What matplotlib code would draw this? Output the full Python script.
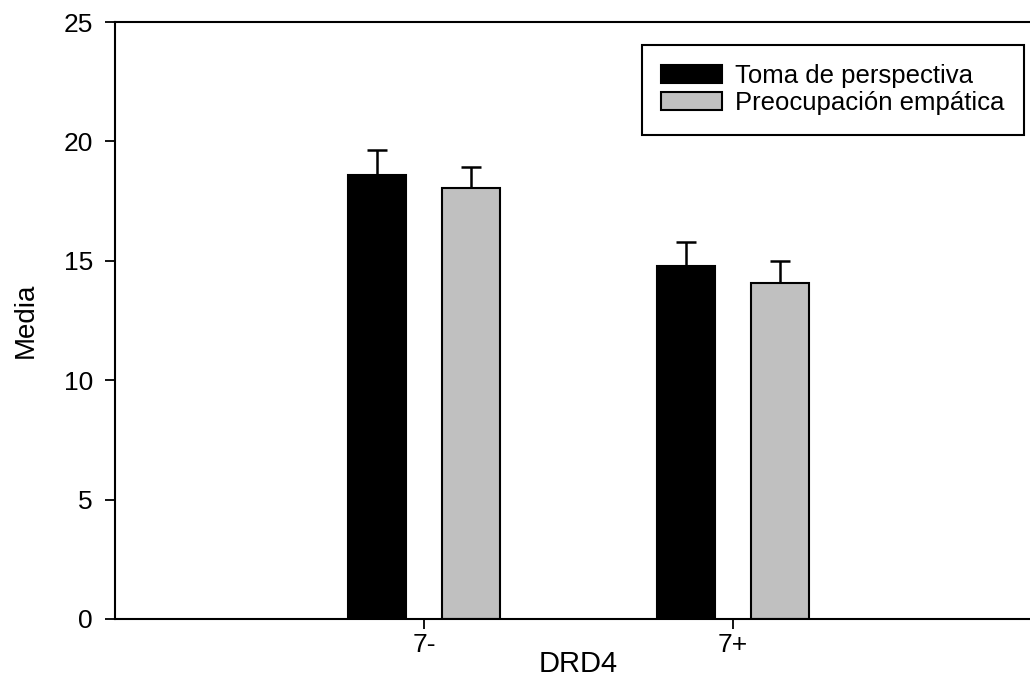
import numpy as np
import matplotlib
matplotlib.use("Agg")
import matplotlib.pyplot as plt

plt.rcParams['font.family'] = ['Liberation Sans', 'DejaVu Sans']

groups = ['7-', '7+']
series_names = ['Toma de perspectiva', 'Preocupación empática']
means_toma = [18.6, 14.8]
means_preoc = [18.05, 14.05]
err_toma = [1.05, 0.97]
err_preoc = [0.88, 0.96]

fig = plt.figure(figsize=(10.3, 6.9), dpi=100)
ax = fig.add_axes([115 / 1030, 71 / 690, 927 / 1030, 597 / 690])

x = np.arange(len(groups))
width = 0.188
offset = 0.152

ax.bar(x - offset, means_toma, width, color='black', edgecolor='black',
       linewidth=1.5, label=series_names[0], zorder=2)
ax.bar(x + offset, means_preoc, width, color='#c0c0c0', edgecolor='black',
       linewidth=1.5, label=series_names[1], zorder=2)

# upper error bars only
ax.errorbar(x - offset, means_toma, yerr=[np.zeros(2), err_toma], fmt='none',
            ecolor='black', elinewidth=1.8, capsize=7.5, capthick=1.8, zorder=1)
ax.errorbar(x + offset, means_preoc, yerr=[np.zeros(2), err_preoc], fmt='none',
            ecolor='black', elinewidth=1.8, capsize=7.5, capthick=1.8, zorder=1)

ax.set_xlim(-1, 2)
ax.set_ylim(0, 25)
ax.set_xticks(x)
ax.set_xticklabels(groups)
ax.set_yticks([0, 5, 10, 15, 20, 25])
ax.tick_params(direction='out', length=7, width=1.3, labelsize=19, colors='black')
ax.tick_params(axis='y', pad=9)
ax.tick_params(axis='x', pad=3)

for side in ['left', 'bottom', 'top']:
    ax.spines[side].set_linewidth(1.5)
ax.spines['right'].set_visible(False)

ax.set_xlabel('DRD4', fontsize=21, labelpad=-5)
ax.set_ylabel('Media', fontsize=20, labelpad=18)

leg = ax.legend(loc='upper left', bbox_to_anchor=(642 / 1030, 1 - 45 / 690),
                bbox_transform=fig.transFigure, borderaxespad=0,
                fontsize=18.5, frameon=True,
                fancybox=False, edgecolor='black', framealpha=1,
                handlelength=2.37, handleheight=0.7, borderpad=0.75,
                labelspacing=0.12, handletextpad=0.5)
leg.get_frame().set_linewidth(1.5)

fig.savefig('out.png', dpi=100)
